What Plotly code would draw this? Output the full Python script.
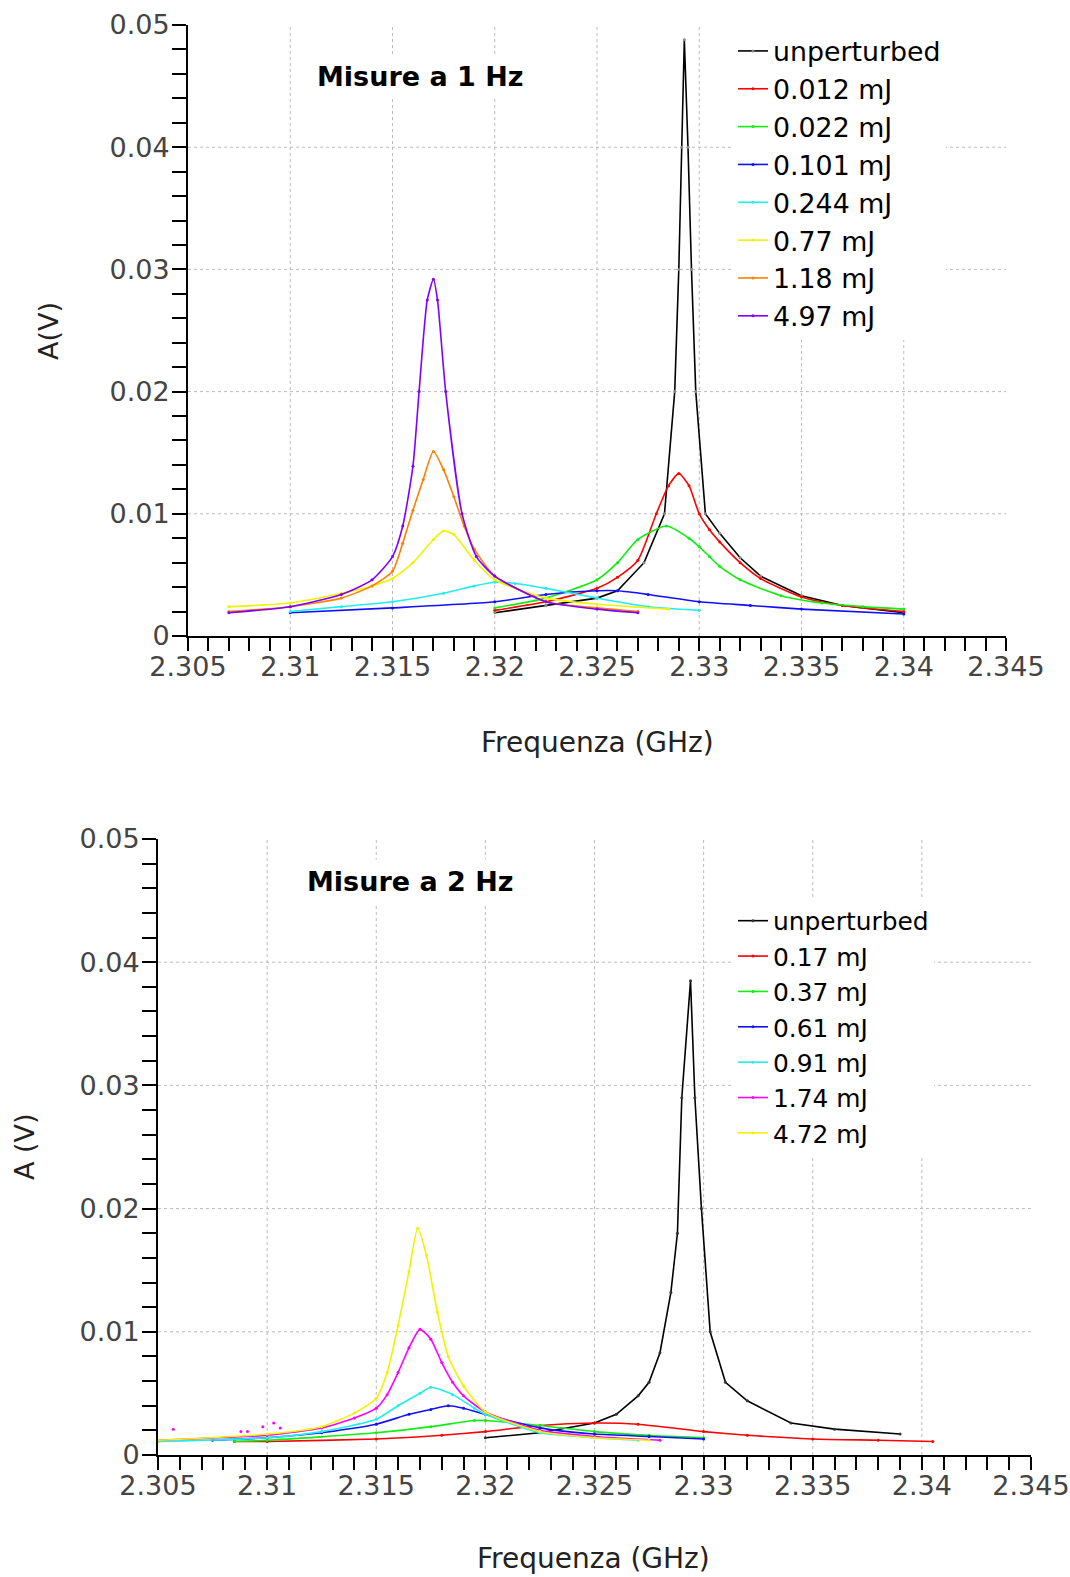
import plotly.graph_objects as go

# ---------------- data: 1 Hz measurements (top panel) ----------------
hz1_names = ["unperturbed", "0.012 mJ", "0.022 mJ", "0.101 mJ", "0.244 mJ", "0.77 mJ", "1.18 mJ", "4.97 mJ"]
hz1_colors = ["#000000", "#ff0000", "#11ee11", "#1010ff", "#22eeee", "#f2f200", "#ff8000", "#8000ff"]

hz1_unp_x = [2.3200, 2.3225, 2.3250, 2.3260, 2.3273, 2.3283, 2.3288, 2.3290, 2.32915, 2.32927, 2.32945, 2.32962, 2.32983, 2.3303, 2.3310, 2.3320, 2.3330, 2.3350, 2.3370, 2.3400]
hz1_unp_y = [0.0019, 0.0025, 0.0031, 0.0037, 0.0060, 0.0100, 0.0200, 0.0300, 0.0400, 0.0488, 0.0400, 0.0300, 0.0200, 0.0100, 0.0084, 0.0064, 0.0049, 0.0033, 0.0025, 0.0019]

hz1_012_x = [2.3200, 2.3225, 2.3250, 2.3260, 2.3270, 2.3279, 2.3285, 2.3290, 2.3295, 2.3300, 2.3305, 2.3310, 2.3320, 2.3330, 2.3350, 2.3370, 2.3400]
hz1_012_y = [0.0021, 0.0028, 0.0039, 0.0048, 0.0062, 0.0100, 0.0123, 0.0133, 0.0123, 0.0100, 0.0087, 0.0077, 0.0060, 0.0047, 0.0032, 0.0025, 0.0020]

hz1_022_x = [2.3200, 2.3225, 2.3250, 2.3260, 2.3270, 2.3284, 2.3295, 2.3300, 2.3305, 2.3310, 2.3320, 2.3340, 2.3360, 2.3380, 2.3400]
hz1_022_y = [0.0023, 0.0031, 0.0046, 0.0060, 0.0079, 0.0090, 0.0080, 0.0073, 0.0065, 0.0057, 0.0046, 0.0033, 0.0027, 0.0024, 0.0022]

hz1_101_x = [2.3100, 2.3150, 2.3200, 2.3225, 2.3250, 2.3260, 2.3275, 2.3300, 2.3325, 2.3350, 2.3400]
hz1_101_y = [0.0019, 0.0023, 0.0028, 0.0034, 0.0037, 0.0037, 0.0034, 0.0028, 0.0025, 0.0022, 0.0018]

hz1_244_x = [2.3100, 2.3125, 2.3150, 2.3175, 2.3190, 2.3200, 2.3210, 2.3225, 2.3250, 2.3275, 2.3300]
hz1_244_y = [0.0020, 0.0024, 0.0028, 0.0035, 0.0041, 0.0044, 0.0043, 0.0039, 0.0031, 0.0024, 0.0021]

hz1_077_x = [2.3070, 2.3100, 2.3125, 2.3140, 2.3150, 2.3160, 2.3170, 2.3175, 2.3180, 2.3190, 2.3200, 2.3225, 2.3250, 2.3285]
hz1_077_y = [0.0024, 0.0027, 0.0035, 0.0041, 0.0047, 0.0060, 0.0079, 0.0086, 0.0083, 0.0062, 0.0046, 0.0031, 0.0026, 0.0022]

hz1_118_x = [2.3070, 2.3100, 2.3125, 2.3140, 2.3150, 2.3155, 2.3160, 2.3165, 2.3170, 2.3175, 2.3180, 2.3185, 2.3190, 2.3200, 2.3225, 2.3250, 2.3270]
hz1_118_y = [0.0020, 0.0024, 0.0031, 0.0041, 0.0053, 0.0076, 0.0103, 0.0128, 0.0151, 0.0136, 0.0114, 0.0090, 0.0071, 0.0049, 0.0028, 0.0023, 0.0020]

hz1_497_x = [2.3070, 2.3100, 2.3125, 2.3140, 2.3150, 2.3155, 2.3160, 2.3163, 2.3167, 2.3170, 2.3172, 2.3176, 2.3184, 2.3191, 2.3200, 2.3225, 2.3250, 2.3270]
hz1_497_y = [0.0019, 0.0024, 0.0034, 0.0046, 0.0065, 0.0090, 0.0139, 0.0200, 0.0275, 0.0292, 0.0275, 0.0200, 0.0100, 0.0065, 0.0049, 0.0028, 0.0022, 0.0019]

hz1_x = [hz1_unp_x, hz1_012_x, hz1_022_x, hz1_101_x, hz1_244_x, hz1_077_x, hz1_118_x, hz1_497_x]
hz1_y = [hz1_unp_y, hz1_012_y, hz1_022_y, hz1_101_y, hz1_244_y, hz1_077_y, hz1_118_y, hz1_497_y]

# ---------------- data: 2 Hz measurements (bottom panel) ----------------
hz2_names = ["unperturbed", "0.17 mJ", "0.37 mJ", "0.61 mJ", "0.91 mJ", "1.74 mJ", "4.72 mJ"]
hz2_colors = ["#000000", "#ff0000", "#11ee11", "#1010ff", "#22eeee", "#ff00ff", "#f2f200"]

hz2_unp_x = [2.3200, 2.3225, 2.3250, 2.3260, 2.3270, 2.3275, 2.3280, 2.3285, 2.3288, 2.3290, 2.3294, 2.3296, 2.3299, 2.3303, 2.3310, 2.3320, 2.3340, 2.3360, 2.3390]
hz2_unp_y = [0.0014, 0.0018, 0.0026, 0.0033, 0.0048, 0.0059, 0.0083, 0.0132, 0.0180, 0.0290, 0.0385, 0.0290, 0.0200, 0.0100, 0.0059, 0.0044, 0.0026, 0.0021, 0.0017]

hz2_017_x = [2.3085, 2.3100, 2.3150, 2.3180, 2.3200, 2.3225, 2.3250, 2.3270, 2.3300, 2.3320, 2.3350, 2.3380, 2.3405]
hz2_017_y = [0.0011, 0.0011, 0.0013, 0.0016, 0.0019, 0.0024, 0.0026, 0.0025, 0.0019, 0.0016, 0.0013, 0.0012, 0.0011]

hz2_037_x = [2.3085, 2.3100, 2.3150, 2.3175, 2.3195, 2.3200, 2.3225, 2.3250, 2.3275, 2.3300]
hz2_037_y = [0.0011, 0.0012, 0.0018, 0.0023, 0.0028, 0.0028, 0.0024, 0.0019, 0.0016, 0.0014]

hz2_061_x = [2.3075, 2.3100, 2.3125, 2.3150, 2.3165, 2.3175, 2.3183, 2.3190, 2.3200, 2.3225, 2.3250, 2.3275, 2.3300]
hz2_061_y = [0.0012, 0.0014, 0.0018, 0.0025, 0.0033, 0.0037, 0.0040, 0.0038, 0.0033, 0.0022, 0.0017, 0.0015, 0.0013]

hz2_091_x = [2.3050, 2.3100, 2.3125, 2.3150, 2.3160, 2.3170, 2.3175, 2.3185, 2.3195, 2.3200, 2.3225, 2.3250, 2.3270]
hz2_091_y = [0.0011, 0.0014, 0.0019, 0.0029, 0.0040, 0.0050, 0.0055, 0.0049, 0.0038, 0.0033, 0.0018, 0.0014, 0.0012]

hz2_174_x = [2.3050, 2.3100, 2.3125, 2.3140, 2.3150, 2.3155, 2.3160, 2.3165, 2.3170, 2.3175, 2.3180, 2.3185, 2.3190, 2.3200, 2.3225, 2.3250, 2.3280]
hz2_174_y = [0.0012, 0.0016, 0.0022, 0.0030, 0.0038, 0.0049, 0.0067, 0.0087, 0.0102, 0.0094, 0.0075, 0.0059, 0.0048, 0.0035, 0.0020, 0.0015, 0.0012]

hz2_472_x = [2.3050, 2.3100, 2.3125, 2.3140, 2.3150, 2.3155, 2.3160, 2.3165, 2.3169, 2.3173, 2.3178, 2.3183, 2.3190, 2.3200, 2.3225, 2.3250, 2.3275]
hz2_472_y = [0.0012, 0.0017, 0.0023, 0.0034, 0.0046, 0.0067, 0.0105, 0.0149, 0.0184, 0.0162, 0.0116, 0.0080, 0.0056, 0.0035, 0.0019, 0.0014, 0.0012]

hz2_x = [hz2_unp_x, hz2_017_x, hz2_037_x, hz2_061_x, hz2_091_x, hz2_174_x, hz2_472_x]
hz2_y = [hz2_unp_y, hz2_017_y, hz2_037_y, hz2_061_y, hz2_091_y, hz2_174_y, hz2_472_y]

# stray magenta samples at low frequency (2 Hz, 1.74 mJ)
hz2_stray_x = [2.3057, 2.3088, 2.3091, 2.3098, 2.3103, 2.3106]
hz2_stray_y = [0.0021, 0.0019, 0.0019, 0.0023, 0.0026, 0.0022]

# axis ticks
x_tickvals = [2.305, 2.31, 2.315, 2.32, 2.325, 2.33, 2.335, 2.34, 2.345]
x_ticktext = ["2.305", "2.31", "2.315", "2.32", "2.325", "2.33", "2.335", "2.34", "2.345"]
y_tickvals = [0, 0.01, 0.02, 0.03, 0.04, 0.05]
y_ticktext = ["0", "0.01", "0.02", "0.03", "0.04", "0.05"]
x_grid = [2.31, 2.315, 2.32, 2.325, 2.33, 2.335, 2.34]
y_grid = [0.01, 0.02, 0.03, 0.04]

W, H = 1070, 1577
FONT = "DejaVu Sans"

fig = go.Figure()

for i, (xs, ys) in enumerate(zip(hz1_x, hz1_y)):
    sharp = i == 0
    fig.add_trace(go.Scatter(
        x=xs, y=ys, name=hz1_names[i], mode="lines+markers",
        line=dict(color=hz1_colors[i], width=1.6, shape="linear" if sharp else "spline", smoothing=0.6),
        marker=dict(size=3, color="#888888" if sharp else hz1_colors[i]),
        xaxis="x", yaxis="y", legend="legend"))

for i, (xs, ys) in enumerate(zip(hz2_x, hz2_y)):
    sharp = i == 0
    fig.add_trace(go.Scatter(
        x=xs, y=ys, name=hz2_names[i], mode="lines+markers",
        line=dict(color=hz2_colors[i], width=1.6, shape="linear" if sharp else "spline", smoothing=0.6),
        marker=dict(size=3, color="#333333" if sharp else hz2_colors[i]),
        xaxis="x2", yaxis="y2", legend="legend2"))

fig.add_trace(go.Scatter(x=hz2_stray_x, y=hz2_stray_y, mode="markers", showlegend=False,
                         marker=dict(size=3, color="#ff00ff"), xaxis="x2", yaxis="y2"))

def px(v):
    return v / W

def py(v):
    return 1 - v / H

def xaxis(domain, anchor):
    return dict(domain=domain, anchor=anchor, range=[2.305, 2.345], tickmode="array",
                tickvals=x_tickvals, ticktext=x_ticktext, showgrid=False, zeroline=False,
                automargin=False, ticklabelstandoff=-7,
                showline=True, linecolor="black", linewidth=2, ticks="outside", ticklen=13,
                tickwidth=1.5, tickcolor="black",
                tickfont=dict(family=FONT, size=27, color="#444444"),
                minor=dict(tickmode="linear", tick0=2.305, dtick=0.001, ticks="outside",
                           ticklen=13, tickwidth=1.5, tickcolor="black", showgrid=False))

def yaxis(domain, anchor):
    return dict(domain=domain, anchor=anchor, range=[0, 0.05], tickmode="array",
                tickvals=y_tickvals, ticktext=y_ticktext, showgrid=False, zeroline=False,
                automargin=False,
                showline=True, linecolor="black", linewidth=2, ticks="outside", ticklen=14,
                tickwidth=1.5, tickcolor="black", ticklabelstandoff=-3,
                tickfont=dict(family=FONT, size=27, color="#444444"),
                minor=dict(tickmode="linear", tick0=0, dtick=0.002, ticks="outside",
                           ticklen=14, tickwidth=1.5, tickcolor="black", showgrid=False))

shapes = []
for xr, yr in (("x", "y"), ("x2", "y2")):
    for gx in x_grid:
        shapes.append(dict(type="line", xref=xr, yref=yr, x0=gx, x1=gx, y0=0, y1=0.05, layer="below",
                           line=dict(color="#bbbbbb", width=1, dash="dot")))
    for gy in y_grid:
        shapes.append(dict(type="line", xref=xr, yref=yr, x0=2.305, x1=2.345, y0=gy, y1=gy, layer="below",
                           line=dict(color="#bbbbbb", width=1, dash="dot")))

def note(text, x, y, size, color="#222222", angle=0, bg=None):
    d = dict(text=text, x=px(x), y=py(y), xref="paper", yref="paper", showarrow=False,
             xanchor="center", yanchor="middle", textangle=angle,
             font=dict(family=FONT, size=size, color=color))
    if bg:
        d.update(bgcolor=bg, borderpad=6)
    return d

annotations = [
    note("<b>Misure a 1 Hz</b>", 420, 76, 27, "black", bg="white"),
    note("<b>Misure a 2 Hz</b>", 410, 882, 27, "black", bg="white"),
    note("Frequenza (GHz)", 597, 742, 28),
    note("Frequenza (GHz)", 593, 1558, 28),
    note("A(V)", 48, 331, 27, angle=-90),
    note("A (V)", 24, 1146, 27, angle=-90),
]

fig.update_layout(
    width=W, height=H,
    margin=dict(l=0, r=0, t=0, b=0, autoexpand=False),
    paper_bgcolor="white", plot_bgcolor="white",
    xaxis=xaxis([px(188), px(1006)], "y"),
    yaxis=yaxis([py(636), py(25)], "x"),
    xaxis2=xaxis([px(158), px(1031)], "y2"),
    yaxis2=yaxis([py(1455), py(839)], "x2"),
    shapes=shapes,
    annotations=annotations,
    legend=dict(x=px(733), y=py(27), xanchor="left", yanchor="top", bgcolor="white",
                font=dict(family=FONT, size=26.8, color="black"), itemwidth=30, tracegroupgap=0),
    legend2=dict(x=px(733), y=py(898), xanchor="left", yanchor="top", bgcolor="white",
                 font=dict(family=FONT, size=24.9, color="black"), itemwidth=30, tracegroupgap=0),
    showlegend=True,
)

fig.write_html("out.html")
